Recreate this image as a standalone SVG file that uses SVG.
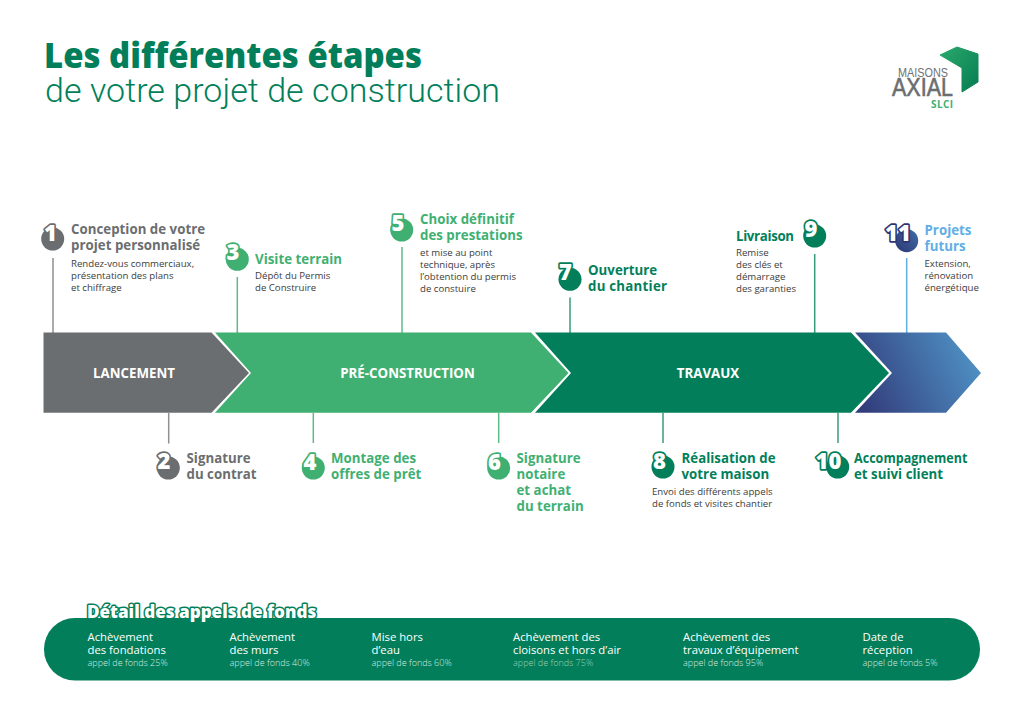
<svg xmlns="http://www.w3.org/2000/svg" width="1024" height="724" viewBox="0 0 1024 724">
<defs>
<linearGradient id="blueG" gradientUnits="userSpaceOnUse" x1="860" y1="400" x2="975" y2="345"><stop offset="0" stop-color="#333d7c"/><stop offset="1" stop-color="#4f93c6"/></linearGradient>
<linearGradient id="navyG" x1="0" y1="1" x2="1" y2="0"><stop offset="0" stop-color="#2d3673"/><stop offset="1" stop-color="#3f6ea8"/></linearGradient>
<linearGradient id="logoG" x1="0" y1="0" x2="1" y2="1"><stop offset="0" stop-color="#2aa96b"/><stop offset="1" stop-color="#067c52"/></linearGradient>
</defs>
<style>
text{font-family:"Open Sans","Noto Sans",sans-serif}
.h{font-size:13.25px;font-weight:700;letter-spacing:.03px}
.b{font-size:9.65px;fill:#3c3c3b}
.n{font-size:22px;font-weight:800;fill:#fff;stroke-width:3.4px;paint-order:stroke;stroke-linejoin:round;text-anchor:middle}
.gr{fill:#6b6e70}.lg{fill:#3fb072}.dg{fill:#027f5a}.bl{fill:#62aee6}
.ngr{stroke:#6b6e70}.nlg{stroke:#3fb072}.ndg{stroke:#027f5a}.nbl{stroke:#2d3673}
.c{stroke-width:1.5;fill:none}
.sgr{stroke:#8e9092}.slg{stroke:#5fbc89}.sdg{stroke:#3a9a7c}.sbl{stroke:#62aee6}
.band{font-size:13.3px;font-weight:700;fill:#fff;text-anchor:middle}
.t{font-size:11.3px;font-weight:500;fill:#fff}
.p{font-size:9px;font-weight:300;fill:#d8ebe3}
</style>
<rect width="1024" height="724" fill="#fff"/>
<g id="title">
<text x="44" y="68" font-size="35.5" font-weight="800" fill="#027f5a" textLength="378" lengthAdjust="spacingAndGlyphs">Les différentes étapes</text>
<text x="45" y="102" font-size="34" font-weight="300" fill="#027f5a" style="font-family:Roboto,sans-serif" textLength="455" lengthAdjust="spacing">de votre projet de construction</text>
</g>
<g id="logo">
<polygon points="940,55 957,47 978,54 978,82 962,92 962,68" fill="url(#logoG)" stroke="url(#logoG)" stroke-width="1" stroke-linejoin="round"/>
<text x="923" y="77" font-size="13.5" text-anchor="middle" fill="#6f7173" style="font-family:'Liberation Sans',sans-serif" textLength="50" lengthAdjust="spacingAndGlyphs">MAISONS</text>
<text x="922.500" y="96" font-size="25" text-anchor="middle" fill="#6b6e70" stroke="#6b6e70" stroke-width=".6" style="font-family:'Liberation Sans',sans-serif" textLength="61" lengthAdjust="spacingAndGlyphs">AXIAL</text>
<text x="931" y="107.500" font-size="10" font-weight="700" fill="#3fb072" textLength="22">SLCI</text>
</g>
<g id="connectors">
<path class="c sgr" d="M53 258V333M168.700 413V443.500"/>
<path class="c slg" d="M237.300 277V333M402 247V333M313.300 413V443M498.700 413V443"/>
<path class="c sdg" d="M570 297.500V333M814.700 254V333M663 413V443M838 413V443"/>
<path class="c sbl" d="M906.700 258V333"/>
</g>
<g id="band-futur"><polygon points="855,332.500 946,332.500 981,373 946,412.700 855,412.700 892,373" fill="url(#blueG)"/></g>
<g id="band-travaux"><polygon points="535,332.500 851,332.500 889,373 851,412.700 535,412.700 571,373" fill="#027f5a"/><text class="band" x="708" y="377.500">TRAVAUX</text></g>
<g id="band-preconstruction"><polygon points="215,332.500 531,332.500 568.500,373 531,412.700 215,412.700 251,373" fill="#3fb072"/><text class="band" x="407.500" y="377.500">PRÉ-CONSTRUCTION</text></g>
<g id="band-lancement"><polygon points="43.500,332.500 211.500,332.500 249,373 211.500,412.700 43.500,412.700" fill="#6b6e70"/><text class="band" x="134" y="377.500">LANCEMENT</text></g>
<g id="step1"><circle cx="52.700" cy="239" r="11.500" class="gr"/><text class="n ngr" x="50.500" y="241">1</text>
<text class="h gr" x="71" y="234">Conception de votre</text><text class="h gr" x="71" y="250">projet personnalisé</text>
<text class="b" x="71" y="267">Rendez-vous commerciaux,</text><text class="b" x="71" y="279">présentation des plans</text><text class="b" x="71" y="291">et chiffrage</text></g>
<g id="step2"><circle cx="168.300" cy="468" r="11.500" class="gr"/><text class="n ngr" x="164" y="469">2</text>
<text class="h gr" x="186.500" y="463">Signature</text><text class="h gr" x="186.500" y="479">du contrat</text></g>
<g id="step3"><circle cx="237.300" cy="259.300" r="11.500" class="lg"/><text class="n nlg" x="233" y="260">3</text>
<text class="h lg" x="255" y="264">Visite terrain</text>
<text class="b" x="255" y="279">Dépôt du Permis</text><text class="b" x="255" y="291">de Construire</text></g>
<g id="step4"><circle cx="313.300" cy="468" r="11.500" class="lg"/><text class="n nlg" x="310" y="469.500">4</text>
<text class="h lg" x="331" y="463">Montage des</text><text class="h lg" x="331" y="479">offres de prêt</text></g>
<g id="step5"><circle cx="401.700" cy="230" r="11.500" class="lg"/><text class="n nlg" x="398" y="230.500">5</text>
<text class="h lg" x="420" y="224">Choix définitif</text><text class="h lg" x="420" y="240">des prestations</text>
<text class="b" x="420" y="256">et mise au point</text><text class="b" x="420" y="268">technique, après</text><text class="b" x="420" y="280">l’obtention du permis</text><text class="b" x="420" y="291.500">de constuire</text></g>
<g id="step6"><circle cx="498.700" cy="468" r="11.500" class="lg"/><text class="n nlg" x="494.500" y="469.500">6</text>
<text class="h lg" x="516.500" y="463">Signature</text><text class="h lg" x="516.500" y="479">notaire</text><text class="h lg" x="516.500" y="495">et achat</text><text class="h lg" x="516.500" y="511">du terrain</text></g>
<g id="step7"><circle cx="570" cy="279.300" r="11.500" class="dg"/><text class="n ndg" x="565.500" y="279.500">7</text>
<text class="h dg" x="588" y="275">Ouverture</text><text class="h dg" x="588" y="291" textLength="79">du chantier</text></g>
<g id="step8"><circle cx="663" cy="467" r="11.500" class="dg"/><text class="n ndg" x="659.500" y="469">8</text>
<text class="h dg" x="681.500" y="463">Réalisation de</text><text class="h dg" x="681.500" y="479">votre maison</text>
<text class="b" x="652" y="495">Envoi des différents appels</text><text class="b" x="652" y="507">de fonds et visites chantier</text></g>
<g id="step9"><circle cx="814.700" cy="236" r="11.500" class="dg"/><text class="n ndg" x="811" y="236.500">9</text>
<text class="h dg" x="736" y="241" textLength="58">Livraison</text>
<text class="b" x="736" y="256">Remise</text><text class="b" x="736" y="268">des clés et</text><text class="b" x="736" y="280">démarrage</text><text class="b" x="736" y="291.500">des garanties</text></g>
<g id="step10"><circle cx="837.700" cy="467" r="11.500" class="dg"/><text class="n ndg" x="828.500" y="469">10</text>
<text class="h dg" x="854" y="463" textLength="113.500" lengthAdjust="spacingAndGlyphs">Accompagnement</text><text class="h dg" x="854" y="479">et suivi client</text></g>
<g id="step11"><circle cx="906.700" cy="240.700" r="11.500" fill="url(#navyG)"/><text class="n nbl" x="898" y="241">11</text>
<text class="h bl" x="924.500" y="235">Projets</text><text class="h bl" x="924.500" y="251">futurs</text>
<text class="b" x="924.500" y="267">Extension,</text><text class="b" x="924.500" y="279">rénovation</text><text class="b" x="924.500" y="291">énergétique</text></g>
<g id="funds">
<rect x="44" y="618" width="936" height="62.500" rx="31" fill="#027f5a"/>
<text x="87" y="618" font-size="17.100" font-weight="800" fill="#fff" stroke="#027f5a" stroke-width="3" paint-order="stroke" stroke-linejoin="round">Détail des appels de fonds</text>
<text class="t" x="87.500" y="641">Achèvement</text><text class="t" x="87.500" y="654">des fondations</text><text class="p" x="87.500" y="666">appel de fonds 25%</text>
<text class="t" x="229.500" y="641">Achèvement</text><text class="t" x="229.500" y="654">des murs</text><text class="p" x="229.500" y="666">appel de fonds 40%</text>
<text class="t" x="371.500" y="641">Mise hors</text><text class="t" x="371.500" y="654">d’eau</text><text class="p" x="371.500" y="666">appel de fonds 60%</text>
<text class="t" x="513" y="641">Achèvement des</text><text class="t" x="513" y="654">cloisons et hors d’air</text><text class="p" x="513" y="666" style="fill:#9fcdb9">appel de fonds 75%</text>
<text class="t" x="683" y="641">Achèvement des</text><text class="t" x="683" y="654">travaux d’équipement</text><text class="p" x="683" y="666">appel de fonds 95%</text>
<text class="t" x="862.500" y="641">Date de</text><text class="t" x="862.500" y="654">réception</text><text class="p" x="862.500" y="666">appel de fonds 5%</text>
</g>
</svg>
